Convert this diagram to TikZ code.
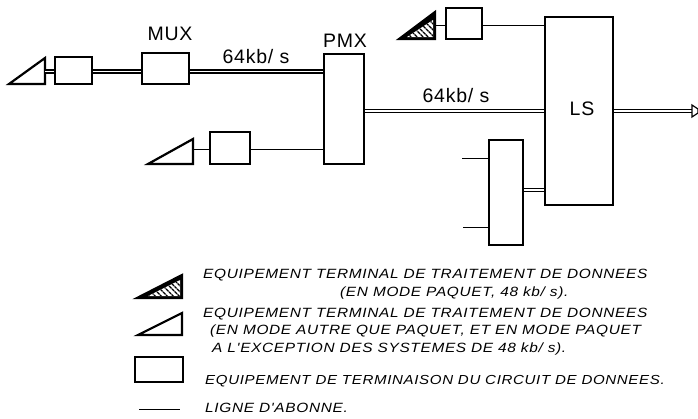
\documentclass[tikz,border=0pt]{standalone}
\usepackage{fontspec}
\setmainfont[LetterSpace=4]{Liberation Sans}
\newfontfamily\legendfont[LetterSpace=5,FakeStretch=1.15]{Liberation Sans}
\usetikzlibrary{patterns.meta}
\begin{document}
\begin{tikzpicture}[x=1pt,y=-1pt,
                    every node/.style={font=\fontsize{19.5}{21}\selectfont},
                    boite/.style={draw,line width=2pt,inner sep=0pt},
                    tri/.style={draw,line width=2.2pt,line join=miter},
                    hachure/.style={pattern={Lines[angle=-45,distance=4pt,line width=1.6pt]}},
                    ligne/.style={line width=1pt},
                    ligned/.style={draw,line width=1.3pt,double=white,double distance=1.5pt},
                    legende/.style={anchor=west,inner sep=0pt,font=\legendfont\itshape\fontsize{13.4}{14}\selectfont}]
      \useasboundingbox (0,0) rectangle (698,418);
      % boites du reseau
      \node[boite, minimum width=37pt, minimum height=27pt] (etcd1) at (73.5,70.5) {};
      \node[boite, minimum width=47pt, minimum height=31pt] (mux) at (165.5,68.5) {};
      \node[boite, minimum width=40pt, minimum height=110pt] (pmx) at (344,109) {};
      \node[boite, minimum width=40pt, minimum height=32pt] (etcd2) at (230,148) {};
      \node[boite, minimum width=36pt, minimum height=31pt] (etcd3) at (464,23.5) {};
      \node[boite, minimum width=68pt, minimum height=188pt] (ls) at (579,111) {};
      \node[boite, minimum width=34pt, minimum height=105pt] (conc) at (506,192.5) {};
      % terminaux
      \draw[tri] (9,84) -- (45,58) -- (45,84) -- cycle;
      \draw[tri] (148,164) -- (193,139) -- (193,164) -- cycle;
      \draw[tri,fill=black] (399,39) -- (435,12) -- (435,39) -- cycle;
      \fill[white] (407,37) -- (433,20) -- (433,37) -- cycle;
      \fill[hachure] (407,37) -- (433,20) -- (433,37) -- cycle;
      \coordinate (ter1) at (45,71.5);
      \coordinate (ter2) at (193,149);
      \coordinate (ter3) at (435,25);
      \coordinate (sortie) at (692,111);
      \coordinate (abo1) at (462,158);
      \coordinate (abo2) at (463,227);
      % liaisons
      \draw[ligned] (ter1) -- (ter1 -| etcd1.west);
      \draw[ligned] (ter1 -| etcd1.east) -- (ter1 -| mux.west);
      \draw[ligned] (ter1 -| mux.east) -- (ter1 -| pmx.west);
      \draw[ligne] (ter2) -- (ter2 -| etcd2.west);
      \draw[ligne] (ter2 -| etcd2.east) -- (ter2 -| pmx.west);
      \draw[ligne] (ter3) -- (ter3 -| etcd3.west);
      \draw[ligne] (ter3 -| etcd3.east) -- (ter3 -| ls.west);
      \draw[ligned] (pmx.east |- ls.west) -- (ls.west);
      \draw[ligned] (ls) -- (sortie);
      \draw[line width=1.2pt] (692,105) -- (698,109) -- (698,113) -- (692,117) -- cycle;
      \draw[ligne] (abo1) -- (abo1 -| conc.west);
      \draw[ligne] (abo2) -- (abo2 -| conc.west);
      \draw[ligned] (conc.east |- 0,190) -- (ls.west |- 0,190);
      % textes
      \node (tmux) at (170,34) {MUX};
      \node (tpmx) at (345,41) {PMX};
      \node (tls) at (582,109) {LS};
      \node (deb1) at (256,57) {64kb/ s};
      \node (deb2) at (456,96) {64kb/ s};
      % legende
      \draw[tri,fill=black] (137,298) -- (182,275) -- (182,298) -- cycle;
      \fill[white] (148,296) -- (180,280) -- (180,296) -- cycle;
      \fill[hachure] (148,296) -- (180,280) -- (180,296) -- cycle;
      \draw[tri] (138,335) -- (182,313) -- (182,335) -- cycle;
      \node[boite, minimum width=48pt, minimum height=25pt] (cadre) at (159,369.5) {};
      \coordinate (lg1) at (139,409);
      \coordinate (lg2) at (180,409);
      \draw[ligne] (lg1) -- (lg2);
      \node[legende] (l1) at (203,275) {EQUIPEMENT TERMINAL DE TRAITEMENT DE DONNEES};
      \node[legende] (l2) at (340,293) {(EN MODE PAQUET, 48 kb/ s).};
      \node[legende] (l3) at (203,314) {EQUIPEMENT TERMINAL DE TRAITEMENT DE DONNEES};
      \node[legende] (l4) at (210,331) {(EN MODE AUTRE QUE PAQUET, ET EN MODE PAQUET};
      \node[legende] (l5) at (212,349) {A L'EXCEPTION DES SYSTEMES DE 48 kb/ s).};
      \node[legende,font=\legendfont\itshape\fontsize{13.1}{14}\selectfont] (l6) at (205,381) {EQUIPEMENT DE TERMINAISON DU CIRCUIT DE DONNEES.};
      \node[legende] (l7) at (205,408) {LIGNE D'ABONNE.};
\end{tikzpicture}
\end{document}
